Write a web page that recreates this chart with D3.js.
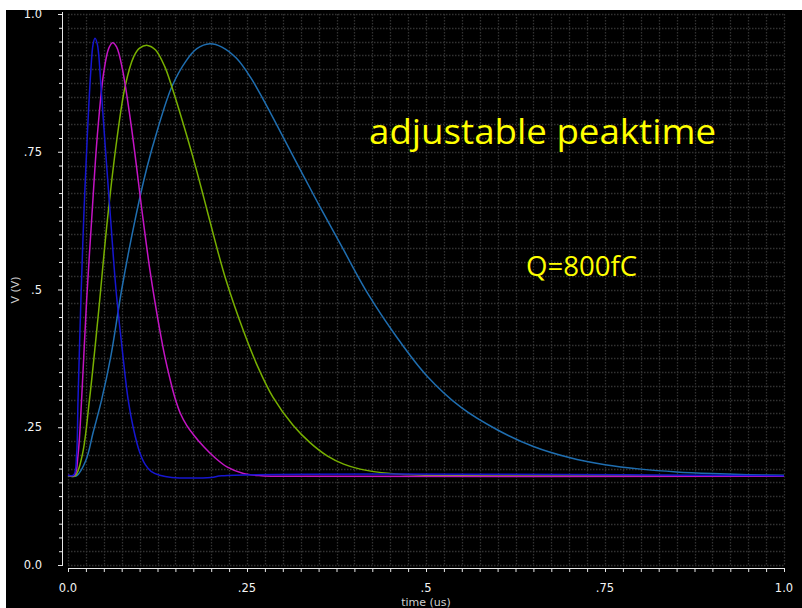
<!DOCTYPE html>
<html>
<head>
<meta charset="utf-8">
<script src="https://cdn.jsdelivr.net/npm/d3@7"></script>
<style>
  body { margin: 0; background: #fff; }
  svg { display: block; }
</style>
</head>
<body>
<div id="chart"></div>
<script>
// tick values on both axes
var xTicks = [0, 0.25, 0.5, 0.75, 1.0];
var xTickLabels = ["0.0", ".25", ".5", ".75", "1.0"];
var yTicks = [0, 0.25, 0.5, 0.75, 1.0];
var yTickLabels = ["0.0", ".25", ".5", ".75", "1.0"];

// shaper output for four peaking times, [time (us), V]
var curveBlue = [[0,0.163],[0.008,0.163],[0.012,0.2],[0.014,0.3],[0.018,0.48],[0.022,0.63],[0.027,0.78],[0.032,0.9],[0.035,0.945],[0.0377,0.956],[0.041,0.945],[0.046,0.87],[0.052,0.76],[0.0596,0.626],[0.067,0.50],[0.075,0.40],[0.084,0.30],[0.091,0.25],[0.1,0.205],[0.108,0.182],[0.116,0.17],[0.128,0.163],[0.145,0.159],[0.2,0.159],[0.215,0.162],[1.0,0.162]];
var curveMagenta = [[0,0.163],[0.009,0.163],[0.014,0.2],[0.019,0.30],[0.026,0.48],[0.033,0.626],[0.041,0.78],[0.05,0.895],[0.057,0.938],[0.0624,0.948],[0.068,0.94],[0.076,0.9],[0.088,0.8],[0.105,0.626],[0.115,0.53],[0.125,0.45],[0.135,0.38],[0.142,0.34],[0.149,0.305],[0.157,0.275],[0.166,0.253],[0.175,0.237],[0.19,0.214],[0.205,0.195],[0.222,0.178],[0.245,0.166],[0.27,0.162],[0.3,0.161],[1.0,0.161]];
var curveGreen = [[0,0.162],[0.01,0.162],[0.02,0.2],[0.030,0.30],[0.042,0.45],[0.055,0.626],[0.068,0.77],[0.08,0.87],[0.092,0.923],[0.1,0.938],[0.111,0.943],[0.122,0.935],[0.135,0.905],[0.145,0.868],[0.16,0.805],[0.175,0.738],[0.19,0.665],[0.205,0.59],[0.22,0.52],[0.245,0.425],[0.265,0.36],[0.286,0.305],[0.314,0.254],[0.338,0.222],[0.362,0.198],[0.385,0.183],[0.408,0.174],[0.45,0.166],[0.5,0.163],[1.0,0.162]];
var curveSteel = [[0,0.162],[0.012,0.162],[0.025,0.19],[0.035,0.24],[0.047,0.30],[0.06,0.38],[0.075,0.5],[0.0936,0.626],[0.11,0.72],[0.125,0.79],[0.145,0.868],[0.165,0.915],[0.18,0.937],[0.198,0.946],[0.215,0.94],[0.235,0.92],[0.255,0.885],[0.273,0.844],[0.31,0.753],[0.347,0.662],[0.384,0.574],[0.419,0.492],[0.46,0.412],[0.5,0.345],[0.55,0.285],[0.6,0.245],[0.65,0.215],[0.7,0.195],[0.75,0.182],[0.8,0.174],[0.85,0.169],[0.9,0.166],[0.95,0.164],[1.0,0.163]];

var series = [
  {values: curveSteel, color: "#1f6eb0"},
  {values: curveGreen, color: "#78b000"},
  {values: curveMagenta, color: "#c414c4"},
  {values: curveBlue, color: "#1616d0"}
];

var width = 802, height = 608;

var svg = d3.select("#chart").append("svg")
  .attr("width", width)
  .attr("height", height)

svg.append("rect")
  .attr("x", 6).attr("y", 10)
  .attr("width", width - 6).attr("height", height - 10)
  .attr("fill", "#000")

var x = d3.scaleLinear().domain([0, 1]).range([68, 784]);
var y = d3.scaleLinear().domain([0, 1]).range([565, 14]);

var fine = d3.range(0, 41).map(function(i){ return i * 0.025; });

// dotted grid every .025
var grid = svg.append("g")
  .attr("stroke", "#323232")
  .attr("stroke-width", 1.3)
  .attr("stroke-dasharray", "1.5,1.5")

grid.selectAll(".gx").data(fine).enter().append("line")
  .attr("x1", function(d){ return Math.round(x(d)) + 0.5; })
  .attr("x2", function(d){ return Math.round(x(d)) + 0.5; })
  .attr("y1", y(1)).attr("y2", y(0))

grid.selectAll(".gy").data(fine).enter().append("line")
  .attr("y1", function(d){ return Math.round(y(d)) + 0.5; })
  .attr("y2", function(d){ return Math.round(y(d)) + 0.5; })
  .attr("x1", x(0)).attr("x2", x(1))

// axes
var xAxis = d3.axisBottom(x).tickValues(fine).tickSize(4).tickFormat("");
var yAxis = d3.axisLeft(y).tickValues(fine).tickSize(3).tickFormat("");

var gx = svg.append("g")
  .attr("transform", "translate(0,568)")
  .call(xAxis)
gx.select(".domain").attr("stroke", "#e8e8e8").attr("d", "M68,0.5H785")
gx.selectAll(".tick line").attr("stroke", "#e8e8e8")

var gy = svg.append("g")
  .attr("transform", "translate(62,0)")
  .call(yAxis)
gy.select(".domain").attr("stroke", "#e8e8e8").attr("d", "M0.5,12V566")
gy.selectAll(".tick line").attr("stroke", "#e8e8e8")
gy.selectAll(".tick").filter(function(d){ return yTicks.indexOf(Math.round(d * 1000) / 1000) >= 0; })
  .select("line").attr("x2", -4)

svg.append("g").selectAll("text").data(xTicks).enter().append("text")
  .attr("x", function(d){ return x(d); })
  .attr("y", 592)
  .attr("text-anchor", "middle")
  .attr("fill", "#f4f4f4")
  .style("font-family", "DejaVu Sans")
  .style("font-size", "11.5px")
  .text(function(d, i){ return xTickLabels[i]; })

svg.append("g").selectAll("text").data(yTicks).enter().append("text")
  .attr("x", 42)
  .attr("y", function(d){ return y(d) + 4; })
  .attr("text-anchor", "end")
  .attr("fill", "#f4f4f4")
  .style("font-family", "DejaVu Sans")
  .style("font-size", "11.5px")
  .text(function(d, i){ return yTickLabels[i]; })

svg.append("text")
  .attr("x", x(0.5))
  .attr("y", 606)
  .attr("text-anchor", "middle")
  .attr("fill", "#cfcfcf")
  .style("font-family", "DejaVu Sans")
  .style("font-size", "11px")
  .text("time (us)")

svg.append("text")
  .attr("transform", "translate(19,290) rotate(-90)")
  .attr("text-anchor", "middle")
  .attr("fill", "#cfcfcf")
  .style("font-family", "DejaVu Sans")
  .style("font-size", "11px")
  .text("V (V)")

// curves
var line = d3.line()
  .x(function(d){ return x(d[0]); })
  .y(function(d){ return y(d[1]); })
  .curve(d3.curveCatmullRom.alpha(0.5))

svg.append("g").selectAll("path").data(series).enter().append("path")
  .attr("fill", "none")
  .attr("stroke", function(d){ return d.color; })
  .attr("stroke-width", 1.5)
  .attr("d", function(d){ return line(d.values); })

// annotations
svg.append("text")
  .attr("x", 369).attr("y", 144)
  .attr("fill", "#ffff00")
  .attr("textLength", 347)
  .attr("lengthAdjust", "spacingAndGlyphs")
  .style("font-family", "Open Sans")
  .style("font-size", "34px")
  .text("adjustable peaktime")

svg.append("text")
  .attr("x", 526).attr("y", 276)
  .attr("fill", "#ffff00")
  .attr("textLength", 111)
  .attr("lengthAdjust", "spacingAndGlyphs")
  .style("font-family", "Open Sans")
  .style("font-size", "27px")
  .text("Q=800fC")

// white margin strips on top/left
svg.append("rect").attr("x", 0).attr("y", 0).attr("width", width).attr("height", 10).attr("fill", "#fff")
svg.append("rect").attr("x", 0).attr("y", 0).attr("width", 6).attr("height", height).attr("fill", "#fff")
</script>
</body>
</html>
